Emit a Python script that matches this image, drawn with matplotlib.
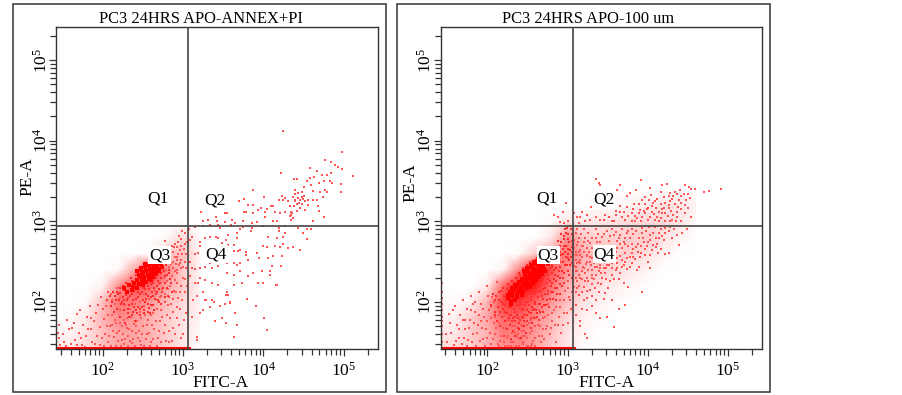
import numpy as np
import matplotlib
matplotlib.use('Agg')
import matplotlib.pyplot as plt
from matplotlib.colors import LinearSegmentedColormap
from matplotlib.patches import Rectangle
from matplotlib.ticker import LogLocator, LogFormatterMathtext, NullFormatter

plt.rcParams['font.family'] = ['Liberation Serif', 'DejaVu Serif']
plt.rcParams['mathtext.fontset'] = 'custom'
plt.rcParams['mathtext.rm'] = 'Liberation Serif'

titles = ['PC3 24HRS APO-ANNEX+PI', 'PC3 24HRS APO-100 um']
gate_x = 10 ** 3.066
gate_y = 10 ** 2.947
axis_min = 10 ** 1.418

# how red each part of the cloud looks, estimated by eye (rows are log10 PE-A, columns log10 FITC-A)
left_dens_x = [1.4,1.6,1.8,2.0,2.2,2.4,2.6,2.8,3.0,3.2]
left_dens_y = [1.4,1.6,1.8,2.0,2.2,2.4,2.6,2.8,3.0]
left_dens = [[.10,.10,.15,.25,.35,.35,.30,.20,.10,0],
             [.05,.05,.12,.25,.35,.35,.30,.20,.10,.03],
             [0,.03,.10,.30,.45,.40,.30,.20,.10,.05],
             [0,0,.02,.25,.55,.50,.40,.25,.15,.05],
             [0,0,0,.05,.45,.70,.60,.35,.20,.05],
             [0,0,0,0,.03,.35,.90,.50,.20,.05],
             [0,0,0,0,0,0,.02,.20,.25,.05],
             [0,0,0,0,0,0,0,.03,.15,.03],
             [0,0,0,0,0,0,0,0,0,0]]
right_dens_x = [1.4,1.6,1.8,2.0,2.2,2.4,2.6,2.8,3.0,3.2,3.4,3.6,3.8,4.0,4.2,4.4,4.6]
right_dens_y = [1.4,1.6,1.8,2.0,2.2,2.4,2.6,2.8,3.0,3.2,3.4]
right_dens = [[.15,.15,.20,.30,.40,.45,.35,.20,.10,0,0,0,0,0,0,0,0],
              [.10,.10,.20,.30,.50,.50,.40,.25,.10,.03,0,0,0,0,0,0,0],
              [.05,.07,.20,.35,.60,.60,.45,.30,.15,.05,.02,0,0,0,0,0,0],
              [.03,.02,.07,.30,.75,.80,.60,.40,.25,.10,.05,.02,0,0,0,0,0],
              [0,0,0,.08,.60,.95,.90,.55,.30,.20,.12,.06,.03,0,0,0,0],
              [0,0,0,0,.05,.50,1.0,.70,.40,.25,.20,.15,.08,.04,0,0,0],
              [0,0,0,0,0,.02,.20,.35,.55,.30,.25,.20,.18,.12,.05,0,0],
              [0,0,0,0,0,0,0,.10,.45,.20,.18,.18,.20,.20,.12,.05,0],
              [0,0,0,0,0,0,0,.02,.10,.08,.10,.12,.15,.15,.15,.10,.02],
              [0,0,0,0,0,0,0,0,0,0,.02,.03,.05,.08,.12,.10,.05],
              [0,0,0,0,0,0,0,0,0,0,0,0,0,0,0,0,0]]

# all events are (log10 FITC-A, log10 PE-A)
left_upper = [(4.24,4.12),(4.98,3.855),(4.77,3.756),(4.84,3.735),(4.89,3.70),(4.93,3.67),(4.98,3.65),(5.12,3.56),(4.585,3.66),(4.67,3.63),(4.73,3.57),(4.79,3.58),(4.84,3.60),(4.22,3.60),(4.38,3.52),(4.42,3.52),(4.58,3.54),(4.635,3.545),(4.54,3.50),(4.60,3.45),(4.70,3.48),(4.75,3.50),(4.83,3.50),(4.86,3.475),(4.97,3.46),(4.51,3.43),(4.62,3.38),(4.705,3.37),(4.77,3.39),(4.79,3.36),(4.97,3.36),(4.39,3.39),(3.87,3.39),(4.40,3.34),(4.435,3.35),(4.48,3.36),(4.23,3.31),(4.27,3.29),(4.37,3.30),(4.43,3.29),(4.48,3.30),(4.51,3.31),(4.56,3.26),(4.615,3.26),(4.67,3.27),(4.74,3.30),(3.76,3.28),(3.70,3.25),(4.01,3.30),(4.195,3.26),(4.24,3.26),(4.31,3.25),(4.39,3.25),(4.46,3.26),(4.52,3.25),(4.415,3.22),(4.48,3.21),(4.33,3.19),(4.385,3.185),(4.46,3.165),(4.52,3.14),(4.685,3.19),(4.70,3.13),(3.81,3.20),(3.87,3.20),(3.93,3.14),(3.76,3.12),(3.79,3.11),(3.875,3.10),(3.97,3.165),(4.02,3.12),(4.10,3.19),(4.125,3.185),(4.04,3.15),(4.14,3.12),(4.27,3.12),(4.21,3.10),(4.35,3.12),(4.415,3.13),(4.345,3.08),(4.37,3.04),(4.345,3.02),(4.62,3.01),(4.76,3.05),(3.22,3.12),(3.52,3.10),(3.55,3.10),(3.41,3.05),(3.315,3.02),(3.25,3.0),(4.02,3.06),(4.125,3.00),(4.165,3.0),(3.855,2.98),(3.92,2.99),(3.605,3.02),(3.52,2.99),(3.75,3.0),(3.65,2.98),(3.42,3.0),(4.33,3.07),(4.36,3.10),(4.40,3.27),(4.45,3.23),(4.50,3.28),(4.56,3.20)]
left_q4 = [(3.15,2.93),(3.25,2.94),(3.335,2.95),(3.44,2.96),(3.60,2.95),(3.75,2.93),(3.855,2.92),(4.0,2.945),(4.19,2.92),(4.27,2.945),(4.43,2.92),(4.54,2.90),(4.59,2.90),(4.50,2.855),(4.54,2.785),(4.19,2.875),(4.27,2.855),(3.85,2.875),(3.71,2.90),(3.565,2.835),(3.67,2.85),(3.46,2.92),(3.41,2.81),(3.44,2.79),(3.335,2.81),(3.27,2.79),(3.21,2.75),(3.11,2.81),(3.09,2.77),(3.54,2.77),(3.67,2.79),(3.565,2.71),(3.48,2.73),(3.64,2.71),(4.06,2.81),(4.165,2.79),(4.25,2.81),(4.0,2.70),(4.04,2.68),(4.145,2.69),(4.25,2.72),(4.21,2.68),(4.31,2.67),(4.37,2.68),(4.46,2.65),(3.92,2.61),(3.78,2.615),(3.71,2.65),(3.79,2.585),(3.63,2.63),(3.69,2.63),(4.06,2.545),(4.125,2.565),(4.23,2.565),(3.945,2.545),(3.81,2.52),(3.71,2.49),(3.63,2.49),(3.67,2.46),(3.545,2.48),(3.44,2.45),(3.42,2.50),(3.46,2.56),(3.335,2.48),(3.27,2.44),(3.21,2.42),(3.15,2.41),(3.19,2.61),(3.15,2.60),(3.21,2.69),(3.09,2.50),(3.11,2.42),(3.09,2.32),(3.15,2.235),(3.19,2.235),(3.27,2.275),(3.21,2.30),(3.36,2.42),(3.545,2.36),(3.63,2.34),(3.71,2.38),(3.81,2.325),(3.875,2.36),(3.98,2.38),(4.08,2.34),(4.11,2.45),(4.22,2.45),(4.08,2.38),(3.94,2.235),(4.0,2.235),(4.165,2.215),(3.73,2.235),(3.63,2.215),(3.545,2.13),(3.565,2.09),(3.36,2.235),(3.44,2.215),(3.25,2.13),(3.17,2.07),(3.13,2.03),(3.27,2.03),(3.36,2.03),(3.585,2.0),(3.52,1.97),(3.46,1.95),(3.80,2.04),(3.905,1.95),(4.01,1.80),(4.04,1.65),(3.91,1.95),(3.65,1.86),(3.585,1.99),(3.48,1.80),(3.40,1.76),(3.67,1.71),(3.63,1.57),(3.54,1.74),(3.17,1.57),(3.17,1.53),(3.21,1.86),(3.29,2.02),(3.34,1.94),(3.38,2.0),(3.54,2.09),(3.11,1.82),(3.25,1.90),(4.16,2.21)]
left_q3_sparse = [(1.45,1.72),(1.44,1.62),(1.46,1.55),(1.47,1.47),(1.52,1.50),(1.56,1.78),(1.60,1.48),(1.62,1.68),(1.66,1.53),(1.68,1.85),(1.70,1.62),(1.72,1.90),(1.74,1.47),(1.76,1.72),(1.79,1.58),(1.80,1.82),(1.84,1.95),(1.85,1.66),(1.87,1.50),(1.89,1.76),(1.92,1.87),(1.93,1.58),(1.96,1.69),(1.97,1.47),(1.98,2.06),(2.01,1.79),(2.03,1.60),(2.04,1.95),(2.06,2.13),(2.07,1.50),(2.09,1.70),(2.11,2.02),(2.12,1.84),(2.14,1.57),(2.16,1.45),(2.17,1.74),(2.18,2.18),(2.20,1.64),(2.22,1.90),(2.24,1.53),(2.26,1.78),(2.27,1.48),(2.30,1.68),(2.32,1.58),(2.35,1.82),(2.37,1.49),(2.39,1.73),(2.41,1.62),(2.44,1.55),(2.46,1.88),(2.48,1.47),(2.50,1.70),(2.52,1.95),(2.55,1.60),(2.57,1.78),(2.60,1.50),(2.62,1.86),(2.64,1.66),(2.67,2.02),(2.69,1.55),(2.71,1.76),(2.73,1.90),(2.76,1.62),(2.78,2.10),(2.80,1.84),(2.82,1.50),(2.85,1.98),(2.87,1.68),(2.89,2.14),(2.92,1.80),(2.94,2.05),(2.96,1.92),(2.98,2.20),(3.00,1.60),(3.02,2.12),(3.04,1.86),(2.70,2.22),(2.74,2.16),(2.80,2.26),(2.84,2.20),(2.86,2.32),(2.90,2.27),(2.92,2.40),(2.93,2.36),(2.95,2.46),(2.97,2.52),(2.98,2.42),(3.00,2.30),(2.99,2.60),(3.01,2.66),(3.03,2.50),(3.04,2.42),(3.05,2.74),(3.05,2.20),(2.90,2.56),(2.88,2.62),(2.92,2.68),(2.86,2.70),(2.94,2.74),(2.96,2.64),(2.84,2.60),(2.82,2.55),(2.80,2.50),(2.78,2.76),(2.88,2.50),(2.75,2.48),(2.93,2.56),(2.97,2.78),(2.90,2.72),(3.02,2.85),(3.07,2.90),(3.04,2.60),(2.83,2.44),(2.87,2.42),(2.91,2.47),(2.79,2.40),(2.76,2.30),(2.73,2.08),(2.65,2.14),(2.58,2.04),(2.52,2.10),(2.46,2.00),(2.40,1.98),(2.34,1.92),(2.28,1.96),(2.22,2.05),(2.15,1.98),(2.10,2.10),(2.68,1.92),(2.60,1.84),(2.55,1.72),(2.48,1.80),(2.42,1.70),(2.36,1.64),(2.30,1.80),(2.24,1.70),(2.18,1.62),(2.12,1.72),(2.06,1.84),(2.00,1.92),
 (1.50,1.60),(1.54,1.46),(1.58,1.66),(1.64,1.74),(1.68,1.47),(1.73,1.56),(1.78,1.44),(1.82,1.66),(1.86,1.80),(1.90,1.48),(1.94,1.96),(1.99,1.56),(2.02,1.46),(2.05,1.70),(2.08,1.58),(2.10,1.46),(2.13,1.64),(2.15,1.78),(2.19,1.52),(2.21,1.74),(2.23,1.46),(2.25,1.60),(2.28,1.54),(2.29,1.72),(2.31,1.46),(2.33,1.66),(2.34,1.52),(2.38,1.54),(2.40,1.46),(2.43,1.76),(2.45,1.64),(2.47,1.52),(2.49,1.60),(2.51,1.46),(2.53,1.84),(2.54,1.54),(2.58,1.62),(2.59,1.46),(2.61,1.72),(2.63,1.54),(2.66,1.76),(2.68,1.46),(2.70,1.64),(2.72,1.50),(2.74,1.82),(2.77,1.72),(2.79,1.52),(2.81,1.96),(2.83,1.64),(2.84,1.80),(2.86,1.52),(2.88,1.88),(2.90,1.60),(2.93,1.94),(2.95,1.72),(2.97,1.56),(2.99,2.02),(3.01,1.78),(2.91,2.12),(2.87,2.04),(2.83,2.06),(2.77,2.00),(2.71,2.06),(2.81,2.16),(2.93,2.24),(2.96,2.12),(3.00,2.44),(3.02,2.28),(2.94,2.60),(2.96,2.48),(2.98,2.70),(2.92,2.52),(2.90,2.38),(2.85,2.47),(2.89,2.68),(2.95,2.82),(2.99,2.88),(3.03,2.72)]
left_mid = [(2.05,2.02),(2.09,2.07),(2.10,1.95),(2.13,2.12),(2.14,1.88),(2.16,2.02),(2.18,1.92),(2.19,2.10),(2.21,1.82),(2.22,2.17),(2.23,1.98),(2.25,2.06),(2.26,1.90),(2.27,2.15),(2.28,1.74),(2.30,2.02),(2.31,1.92),(2.32,2.20),(2.33,1.82),(2.34,2.08),(2.36,1.98),(2.37,2.26),(2.38,1.88),(2.39,2.14),(2.40,1.76),(2.42,2.04),(2.43,2.22),(2.44,1.94),(2.45,2.30),(2.46,2.10),(2.47,1.84),(2.48,2.36),(2.50,2.02),(2.51,2.18),(2.52,1.90),(2.54,2.10),(2.55,2.26),(2.56,1.98),(2.58,2.16),(2.59,1.86),(2.60,2.06),(2.62,2.24),(2.63,1.96),(2.65,2.04),(2.66,2.30),(2.68,2.12),(2.70,2.00),(2.71,2.24),(2.73,2.36),(2.75,2.18),(2.77,2.06),(2.78,2.32),(2.80,2.18),(2.82,2.40),(2.84,2.28),(2.86,2.12),(2.75,2.44),(2.79,2.46),(2.72,2.46),(2.35,2.14),(2.29,2.09),(2.24,2.00),(2.33,1.96),(2.41,1.90),(2.49,1.94),(2.44,2.12),(2.53,2.00),(2.61,2.13),(2.67,2.20),(2.58,1.93),
 (2.18,2.12),(2.20,2.03),(2.22,2.11),(2.25,2.20),(2.27,2.03),(2.29,2.24),(2.30,2.14),(2.32,2.05),(2.35,2.30),(2.36,2.10),(2.38,2.02),(2.41,2.33),(2.42,2.16),(2.44,2.06),(2.46,2.38),(2.47,2.24),(2.49,2.12),(2.50,2.42),(2.53,2.16),(2.54,2.04),(2.56,2.20),(2.57,2.08),(2.60,2.22),(2.62,2.08),(2.64,2.18),(2.66,2.10),(2.69,2.26),(2.70,2.16),(2.72,2.30),(2.74,2.12),(2.76,2.38),(2.77,2.24),(2.80,2.34),(2.81,2.08),(2.83,2.36),(2.85,2.24),(2.15,2.08),(2.12,2.00),(2.26,1.98),(2.31,1.86),(2.36,1.84),(2.39,1.94),(2.43,1.86),(2.47,1.92),(2.51,1.86),(2.56,1.88),(2.60,1.96),(2.64,1.90),(2.69,2.02),(2.72,1.98)]
left_core = [(2.53,2.47),(2.58,2.46),(2.63,2.47),(2.68,2.46),(2.73,2.47),(2.48,2.42),(2.53,2.43),(2.59,2.41),(2.64,2.42),(2.69,2.41),(2.74,2.43),(2.43,2.38),(2.49,2.37),(2.54,2.39),(2.60,2.38),(2.65,2.37),(2.70,2.39),(2.45,2.33),(2.50,2.35),(2.56,2.34),(2.61,2.33),(2.66,2.35),(2.47,2.31),(2.52,2.30),(2.58,2.29),(2.63,2.31),(2.43,2.27),(2.49,2.26),(2.54,2.25),(2.60,2.27),(2.39,2.23),(2.45,2.22),(2.50,2.21),(2.38,2.19),(2.43,2.18),(2.36,2.15),(2.30,2.13),(2.27,2.17),(2.33,2.21)]
left_bottom = [1.44,1.48,1.52,1.56,1.60,1.64,1.68,1.72,1.76,1.80,1.84,1.88,1.92,1.96,2.00,2.04,2.08,2.12,2.16,2.20,2.24,2.28,2.32,2.36,2.40,2.44,2.48,2.52,2.56,2.60,2.64,2.68,2.72,2.76,2.80,2.84,2.88,2.92,2.96,3.00,3.04,3.08]

right_upper = [(3.35,3.525),(3.39,3.48),(3.40,3.445),(3.91,3.51),(3.65,3.445),(3.62,3.39),(4.03,3.41),(4.18,3.45),(4.24,3.465),(4.47,3.445),(4.51,3.43),(4.54,3.40),(4.59,3.40),(4.76,3.38),(4.91,3.40),(4.70,3.36),(3.85,3.39),(3.78,3.35),(3.74,3.32),(4.16,3.37),(4.28,3.35),(4.36,3.34),(4.40,3.39),(4.45,3.34),(4.50,3.34),(4.32,3.31),(4.26,3.31),(4.385,3.27),(4.53,3.29),(4.41,3.23),(4.28,3.25),(4.22,3.23),(3.93,3.27),(4.01,3.26),(4.09,3.25),(3.825,3.21),(3.89,3.21),(3.97,3.21),(4.05,3.185),(4.16,3.21),(4.26,3.17),(4.365,3.12),(4.54,3.05),(3.66,3.19),(3.74,3.18),(3.49,3.165),(3.29,3.18),(3.12,3.06),(3.18,3.11),(3.245,3.08),(3.45,3.02),(3.555,3.0),(3.66,3.11),(3.80,3.10),(3.89,3.10),(3.97,3.10),(4.05,3.12),(4.135,3.12),(4.22,3.10),(3.87,3.04),(3.93,3.06),(4.03,3.05),(4.095,3.02),(4.16,3.04),(4.22,3.01),(4.30,3.02),(4.41,3.0),(4.32,3.08),(3.72,3.02),(3.80,3.0),(3.08,3.10),(3.14,2.98),(3.285,3.02),(3.41,3.02),(2.98,3.23),(2.94,3.12),(2.88,3.05),(2.83,3.08),(3.00,3.0),(2.95,2.98),(2.90,2.99),(4.18,3.15),(4.10,3.17),(4.00,3.16),(3.95,3.13),(4.29,3.13),(4.46,3.20),(4.50,3.17),(4.42,3.15),(3.84,3.07),(4.12,3.06),(3.60,3.08),(3.52,3.05),
 (4.30,3.28),(4.34,3.22),(4.38,3.18),(4.20,3.30),(4.12,3.28),(4.04,3.33),(3.96,3.30),(3.90,3.14),(3.82,3.15),(3.76,3.07),(3.70,3.12),(4.08,3.09),(4.20,3.17),(4.25,3.07),(4.14,3.00),(4.00,3.02),(3.92,3.00),(3.84,3.00),(3.68,3.06),(3.58,3.00),(3.47,3.08),(3.35,3.06),(3.22,3.00),(3.16,3.05),(4.36,3.05),(4.46,3.10),(4.48,3.27),(4.42,3.31),(4.34,3.37),(3.60,3.13),(4.06,3.23),(3.99,3.15),(4.18,3.10),(4.27,3.20),(4.35,3.00),(4.28,3.00)]
right_q4 = [(3.12,2.90),(3.20,2.90),(3.35,2.90),(3.49,2.88),(3.555,2.90),(3.68,2.90),(3.80,2.90),(3.93,2.92),(4.01,2.93),(4.095,2.93),(4.16,2.90),(4.22,2.92),(4.28,2.93),(4.49,2.90),(4.43,2.855),(4.365,2.835),(4.22,2.855),(4.135,2.855),(4.03,2.835),(3.93,2.85),(3.85,2.875),(3.74,2.855),(3.66,2.835),(3.58,2.835),(3.43,2.81),(3.35,2.80),(3.22,2.79),(3.14,2.79),(3.08,2.77),(4.385,2.71),(4.135,2.79),(4.2,2.77),(4.03,2.77),(3.95,2.75),(3.89,2.79),(3.78,2.79),(3.70,2.75),(3.62,2.76),(3.515,2.76),(3.41,2.75),(3.285,2.73),(3.20,2.75),(3.12,2.71),(3.08,2.67),(4.07,2.71),(3.99,2.69),(3.85,2.68),(3.76,2.69),(3.68,2.67),(3.62,2.67),(3.16,2.65),(3.245,2.67),(4.26,2.61),(4.22,2.60),(4.125,2.61),(4.03,2.585),(3.91,2.61),(3.805,2.61),(3.72,2.61),(3.66,2.575),(3.12,2.585),(3.18,2.56),(3.245,2.565),(3.10,2.52),(3.16,2.48),(3.245,2.50),(3.33,2.48),(3.41,2.46),(3.49,2.46),(3.555,2.48),(3.72,2.50),(3.805,2.48),(3.89,2.44),(4.025,2.42),(3.10,2.44),(3.20,2.42),(3.31,2.40),(3.39,2.38),(3.47,2.36),(3.60,2.40),(3.66,2.36),(3.74,2.41),(3.87,2.40),(3.14,2.34),(3.245,2.30),(3.33,2.28),(3.43,2.30),(3.535,2.255),(3.64,2.285),(3.70,2.235),(3.12,2.255),(3.08,2.19),(3.20,2.19),(3.285,2.15),(3.39,2.13),(3.47,2.11),(3.555,2.03),(3.76,2.185),(3.93,2.13),(3.14,2.09),(3.245,2.05),(3.35,2.03),(3.45,2.04),(3.72,1.965),(3.64,1.91),(3.58,1.69),(3.49,1.82),(3.41,1.80),(3.35,1.86),(3.245,1.90),(3.16,1.76),(3.16,1.70),(3.22,1.605),(3.245,1.55),(3.18,2.70),(3.27,2.62),(3.34,2.70),(3.40,2.62),(3.46,2.55),(3.52,2.62),(3.58,2.55),(3.29,2.46),(3.37,2.54),(3.14,2.62),(3.10,2.58),(3.08,2.45),(3.12,2.48),(3.22,2.36),(3.18,2.28),(3.10,2.38),(3.26,2.40),(3.30,2.34),(3.37,2.44),(3.45,2.42),(3.52,2.46),(3.24,2.58),(3.30,2.54),(3.40,2.50),(3.62,2.48),(3.68,2.44),(3.78,2.56),(3.84,2.53),(3.90,2.56),(3.96,2.66),(4.10,2.68),(4.00,2.50),(3.15,2.52),(3.19,2.44),(3.26,2.26),(3.12,2.18),(3.18,2.12),(3.30,2.22),(3.38,2.24),(3.42,2.36),(3.56,2.34),
 (3.10,2.86),(3.17,2.84),(3.26,2.86),(3.30,2.80),(3.38,2.84),(3.46,2.84),(3.53,2.82),(3.60,2.87),(3.64,2.80),(3.72,2.80),(3.76,2.88),(3.82,2.84),(3.88,2.72),(3.94,2.80),(3.98,2.88),(4.06,2.86),(4.10,2.80),(4.18,2.82),(4.26,2.88),(4.30,2.80),(4.33,2.90),(3.13,2.74),(3.19,2.69),(3.25,2.76),(3.30,2.67),(3.37,2.74),(3.44,2.70),(3.48,2.64),(3.55,2.70),(3.60,2.62),(3.66,2.72),(3.72,2.72),(3.80,2.72),(3.82,2.66),(3.88,2.62),(3.92,2.70),(4.00,2.74),(4.05,2.64),(4.12,2.72),(4.16,2.66),(3.10,2.62),(3.16,2.58),(3.20,2.62),(3.28,2.56),(3.33,2.60),(3.37,2.58),(3.44,2.58),(3.50,2.53),(3.56,2.58),(3.62,2.54),(3.68,2.52),(3.74,2.54),(3.82,2.56),(3.96,2.58),(3.14,2.50),(3.18,2.38),(3.23,2.47),(3.28,2.50),(3.34,2.44),(3.40,2.42),(3.48,2.42),(3.55,2.42),(3.62,2.42),(3.70,2.46),(3.78,2.44),(3.12,2.38),(3.16,2.30),(3.22,2.26),(3.30,2.30),(3.35,2.34),(3.48,2.28),(3.58,2.28),(3.10,2.30),(3.14,2.20),(3.24,2.14),(3.34,2.18),(3.42,2.22),(3.50,2.18),(3.10,2.12),(3.20,2.02),(3.30,2.08),(3.10,1.96),(3.18,1.92),(3.30,1.95),(3.10,1.84)]
right_q3_sparse = [(1.50,1.50),(1.52,1.85),(1.55,1.62),(1.58,1.47),(1.60,1.95),(1.62,1.72),(1.64,1.56),(1.66,1.84),(1.68,1.48),(1.70,2.02),(1.72,1.66),(1.74,1.92),(1.76,1.53),(1.78,1.78),(1.80,2.08),(1.82,1.60),(1.84,1.88),(1.86,1.45),(1.88,1.72),(1.90,2.12),(1.92,1.98),(1.94,1.54),(1.96,1.82),(1.98,1.66),(2.00,2.20),(2.02,1.90),(2.04,1.48),(2.06,2.06),(2.08,1.74),(2.10,1.60),(2.12,2.25),(2.14,1.84),(2.16,1.52),(2.18,1.96),(2.20,1.68),(2.22,1.46),(2.24,1.78),(2.26,1.58),(2.28,1.88),(2.30,1.50),(2.32,1.70),(2.34,1.62),(2.36,1.45),(2.38,1.80),(2.40,1.56),(2.42,1.72),(2.44,1.48),(2.46,1.64),(2.48,1.84),(2.50,1.55),(2.52,1.74),(2.54,1.46),(2.56,1.64),(2.58,1.82),(2.60,1.56),(2.63,1.72),(2.65,1.90),(2.67,1.50),(2.70,1.66),(2.72,1.82),(2.75,1.98),(2.78,1.60),(2.80,1.76),(2.83,1.90),(2.85,1.50),(2.88,1.72),(2.90,2.02),(2.92,1.62),(2.95,1.86),(2.97,2.14),(3.00,1.74),(3.02,2.06),(3.04,1.92),(1.72,1.78),(1.82,1.98),(1.92,1.76),(2.00,1.56),(2.04,1.80),(2.08,2.00),(2.14,1.46),(2.20,1.86),(2.26,1.46),(2.32,1.50),(2.38,1.60),(2.44,1.58),(2.50,1.46),(2.56,1.48),(2.60,1.46),(2.68,1.58),(2.74,1.70),(1.44,1.98),(1.43,2.12),(1.43,1.82),(1.43,1.70),(1.43,1.60),(1.43,1.50),(1.43,2.05),(1.43,1.90),(1.43,2.24),(1.43,1.76),
 (1.48,1.60),(1.54,1.74),(1.57,1.90),(1.61,1.52),(1.65,1.66),(1.69,1.78),(1.71,1.56),(1.75,1.46),(1.77,1.68),(1.79,1.90),(1.81,1.50),(1.83,1.74),(1.85,2.00),(1.87,1.62),(1.89,1.84),(1.91,1.52),(1.93,1.68),(1.95,1.92),(1.97,1.46),(1.99,1.76),(2.01,2.08),(2.03,1.62),(2.05,1.94),(2.07,1.54),(2.09,1.82),(2.11,1.68),(2.13,1.48),(2.15,1.74),(2.17,1.58),(2.19,1.86),(2.21,1.50),(2.23,1.68),(2.25,1.56),(2.27,1.78),(2.29,1.46),(2.31,1.62),(2.33,1.50),(2.35,1.70),(2.37,1.58),(2.39,1.46),(2.41,1.54),(2.43,1.64),(2.45,1.50),(2.47,1.58),(2.49,1.72),(2.51,1.46),(2.53,1.62),(2.55,1.78),(2.57,1.52),(2.59,1.70),(2.61,1.80),(2.64,1.58),(2.66,1.70),(2.69,1.80),(2.71,1.54),(2.73,1.66),(2.76,1.84),(2.79,1.68),(2.81,1.86),(2.84,1.72),(2.86,1.94),(2.89,1.82),(2.91,1.94),(2.94,1.72),(2.96,2.02),(2.99,1.86),(3.01,2.18),(3.03,2.02),(3.05,2.12),(3.00,2.26)]
right_mid = [(2.04,1.96),(2.07,2.10),(2.09,1.88),(2.10,2.02),(2.12,1.76),(2.13,1.94),(2.15,2.12),(2.16,1.70),(2.17,2.00),(2.18,1.82),(2.19,2.18),(2.20,1.92),(2.21,1.58),(2.22,1.76),(2.23,2.06),(2.24,1.86),(2.25,1.66),(2.26,2.22),(2.27,1.94),(2.28,1.72),(2.29,1.54),(2.30,1.84),(2.31,2.26),(2.32,1.64),(2.33,1.92),(2.34,1.76),(2.35,1.58),(2.36,2.30),(2.37,1.84),(2.38,1.68),(2.39,1.96),(2.40,2.36),(2.41,1.78),(2.42,1.56),(2.43,1.90),(2.44,1.70),(2.45,2.42),(2.46,1.84),(2.47,1.96),(2.48,1.62),(2.49,2.46),(2.50,1.76),(2.51,2.00),(2.52,1.88),(2.53,2.50),(2.54,2.06),(2.55,1.68),(2.56,1.94),(2.57,2.12),(2.58,1.80),(2.59,2.00),(2.60,2.18),(2.61,1.90),(2.62,2.54),(2.63,2.06),(2.64,2.20),(2.65,1.78),(2.66,1.98),(2.67,2.12),(2.68,2.26),(2.69,1.88),(2.70,2.04),(2.71,2.32),(2.72,2.18),(2.73,1.96),(2.74,2.40),(2.75,2.10),(2.76,2.28),(2.77,2.52),(2.78,2.04),(2.79,2.20),(2.80,2.36),(2.81,2.46),(2.82,2.12),(2.83,2.28),(2.84,2.56),(2.85,2.02),(2.86,2.42),(2.87,2.18),(2.88,2.32),(2.89,2.66),(2.90,2.50),(2.91,2.10),(2.92,2.74),(2.93,2.38),(2.94,2.60),(2.95,2.24),(2.96,2.82),(2.97,2.46),(2.98,2.70),(2.99,2.92),(3.00,2.54),(3.01,2.84),(3.02,2.34),(3.03,2.64),(3.04,2.90),(3.05,2.76),(3.06,2.48),(3.07,2.58),(2.85,2.66),(2.80,2.60),(2.76,2.64),(2.88,2.76),(2.92,2.84),(2.95,2.70),(3.00,2.78),(3.03,2.94),(3.05,2.62),(3.07,2.82),(2.98,2.56),(2.90,2.62),(3.02,2.52),(3.06,2.30),(2.94,2.30),(2.90,2.22),(2.84,2.34),(2.78,2.42),(2.74,2.24),(2.68,2.08),(2.62,1.86),(2.54,1.86),(2.46,1.70),(2.40,1.66),(2.34,1.88),(2.28,1.84),(2.22,1.96),(2.16,1.88),(2.10,1.84),(2.32,1.80),(2.38,1.80),(2.44,1.80),(2.50,1.90),(2.58,1.92),(2.66,1.88),
 (2.11,2.08),(2.14,2.02),(2.17,2.14),(2.19,1.98),(2.21,2.08),(2.22,1.88),(2.24,2.16),(2.26,2.02),(2.27,1.80),(2.29,2.18),(2.30,1.94),(2.31,1.76),(2.33,2.24),(2.34,2.04),(2.35,1.82),(2.37,2.30),(2.38,1.96),(2.39,1.74),(2.41,2.34),(2.42,1.98),(2.43,1.82),(2.45,1.92),(2.46,1.76),(2.47,2.40),(2.48,2.00),(2.49,1.84),(2.50,2.08),(2.52,1.96),(2.53,2.10),(2.54,1.80),(2.55,2.02),(2.56,1.74),(2.57,1.90),(2.58,2.10),(2.60,1.98),(2.61,2.12),(2.62,1.82),(2.63,2.22),(2.64,1.98),(2.65,2.14),(2.67,2.24),(2.68,1.94),(2.69,2.16),(2.70,2.28),(2.71,1.96),(2.72,2.10),(2.73,2.38),(2.74,2.02),(2.75,2.34),(2.76,2.14),(2.77,1.94),(2.78,2.26),(2.79,2.12),(2.80,2.44),(2.81,2.24),(2.82,2.04),(2.83,2.40),(2.84,2.18),(2.85,2.48),(2.86,2.26),(2.87,2.10),(2.88,2.54),(2.89,2.38),(2.90,2.30),(2.91,2.44),(2.92,2.58),(2.93,2.20),(2.94,2.50),(2.95,2.78),(2.96,2.36),(2.97,2.62),(2.98,2.86),(2.99,2.46),(3.00,2.66),(3.01,2.38),(3.02,2.74),(3.03,2.46),(3.04,2.56),(3.05,2.84),(3.06,2.68),(3.07,2.72),(2.86,2.60),(2.82,2.54),(2.78,2.48),(2.88,2.68),(2.91,2.70),(2.94,2.66),(2.97,2.90),(3.01,2.60)]
right_core = [(2.58,2.50),(2.62,2.51),(2.54,2.46),(2.59,2.47),(2.64,2.46),(2.70,2.45),(2.76,2.47),(2.50,2.42),(2.55,2.43),(2.60,2.41),(2.66,2.42),(2.71,2.41),(2.46,2.38),(2.51,2.37),(2.57,2.39),(2.62,2.38),(2.67,2.37),(2.72,2.39),(2.47,2.33),(2.53,2.35),(2.58,2.34),(2.63,2.33),(2.68,2.35),(2.43,2.29),(2.49,2.31),(2.54,2.30),(2.60,2.29),(2.65,2.31),(2.39,2.25),(2.45,2.27),(2.50,2.26),(2.56,2.25),(2.61,2.27),(2.34,2.21),(2.40,2.23),(2.46,2.22),(2.51,2.21),(2.57,2.23),(2.31,2.17),(2.36,2.19),(2.42,2.18),(2.48,2.17),(2.53,2.19),(2.28,2.13),(2.33,2.15),(2.39,2.14),(2.45,2.13),(2.26,2.09),(2.31,2.11),(2.37,2.10),(2.43,2.09),(2.26,2.05),(2.31,2.07),(2.37,2.06),(2.29,2.01),(2.35,2.03),(2.30,1.97)]
right_bottom = [1.44,1.48,1.52,1.56,1.60,1.64,1.68,1.72,1.76,1.80,1.84,1.88,1.92,1.96,2.00,2.04,2.08,2.12,2.16,2.20,2.24,2.28,2.32,2.36,2.40,2.44,2.48,2.52,2.56,2.60,2.64,2.68,2.72,2.76,2.80,2.84,2.88,2.92,2.96,3.00,3.04,3.08]

left_quads = [('Q1',2.69,3.28),('Q2',3.40,3.26),('Q3',2.71,2.58),('Q4',3.41,2.59)]
right_quads = [('Q1',2.74,3.285),('Q2',3.45,3.265),('Q3',2.76,2.58),('Q4',3.46,2.595)]

W, H = 902, 395
fig = plt.figure(figsize=(W / 100, H / 100), dpi=100, facecolor='white')
reds = LinearSegmentedColormap.from_list('reds_white', ['#ffffff', '#ff0000'])

def px_axes(x0, y0, x1, y1):
    return fig.add_axes([x0 / W, 1 - y1 / H, (x1 - x0) / W, (y1 - y0) / H])

def dots(ax, pts, size, color='#ff5555', alpha=1.0):
    p = np.array(pts)
    ax.scatter(10 ** p[:, 0], 10 ** p[:, 1], s=size, c=color, marker='s', linewidths=0, alpha=alpha, zorder=2)

def panel(box, ax_box, title, title_x, ylabel_pos, xlabel_x, dens, sparse, mid, core, bottom, quads):
    fig.add_artist(Rectangle((box[0] / W, 1 - box[3] / H), (box[2] - box[0]) / W, (box[3] - box[1]) / H,
                             transform=fig.transFigure, fill=False, ec='#333333', lw=1.1))
    ax = px_axes(*ax_box)
    ax.set_xscale('log')
    ax.set_yscale('log')
    ax.set_xlim(axis_min, 10 ** 5.425)
    ax.set_ylim(axis_min, 10 ** 5.413)
    dx, dy, dz = dens
    ax.pcolormesh(10 ** np.array(dx), 10 ** np.array(dy), np.array(dz), cmap=reds, vmin=0, vmax=1,
                  shading='gouraud', zorder=1)
    for pts in sparse:
        dots(ax, pts, 1.8)
    dots(ax, mid, 2.8, color='#ff2a2a')
    dots(ax, core, 5, color='#ff0000')
    b = np.array(bottom)
    ax.scatter(10 ** b, np.full(len(b), axis_min), s=8, c='#ff0000', marker='s', linewidths=0, zorder=2)
    ax.axvline(gate_x, color='#444444', lw=1.2, zorder=3)
    ax.axhline(gate_y, color='#444444', lw=1.2, zorder=3)
    for name, lx, ly in quads:
        ax.text(10 ** lx, 10 ** ly, name, fontsize=12.5, ha='center', va='center', zorder=4,
                bbox=dict(fc='white', ec='none', pad=0.8))
    for s in ax.spines.values():
        s.set_color('#333333')
        s.set_linewidth(1.0)
    for axis in (ax.xaxis, ax.yaxis):
        axis.set_major_locator(LogLocator(base=10, numticks=8))
        axis.set_minor_locator(LogLocator(base=10, subs=np.arange(2, 10), numticks=8))
        axis.set_major_formatter(LogFormatterMathtext())
        axis.set_minor_formatter(NullFormatter())
    ax.tick_params(which='major', length=5, width=0.9, color='#333333', labelsize=12.5, pad=4)
    ax.tick_params(axis='y', which='major', pad=-1)
    ax.tick_params(which='minor', length=4, width=0.9, color='#333333')
    for t in ax.get_yticklabels():
        t.set_rotation(90)
        t.set_va('center')
    ax.set_xlabel('FITC-A', fontsize=12.5, va='center')
    ax.xaxis.set_label_coords(xlabel_x, -0.105)
    ax.set_ylabel('PE-A', fontsize=12.5, va='center')
    ax.yaxis.set_label_coords(*ylabel_pos)
    ax.set_title(title, fontsize=11.8, pad=3, x=title_x)
    return ax

panel((12.5, 3.5, 386, 392), (56, 26.7, 377.7, 349), titles[0], 0.451, (-0.09, 0.534), 0.51,
      (left_dens_x, left_dens_y, left_dens),
      [left_upper, left_q4, left_q3_sparse], left_mid, left_core, left_bottom, left_quads)
panel((397.3, 3.5, 769.7, 392), (440.7, 26.7, 762, 349), titles[1], 0.4575, (-0.0955, 0.516), 0.517,
      (right_dens_x, right_dens_y, right_dens),
      [right_upper, right_q4, right_q3_sparse], right_mid, right_core, right_bottom, right_quads)

fig.savefig('out.png', dpi=100)
